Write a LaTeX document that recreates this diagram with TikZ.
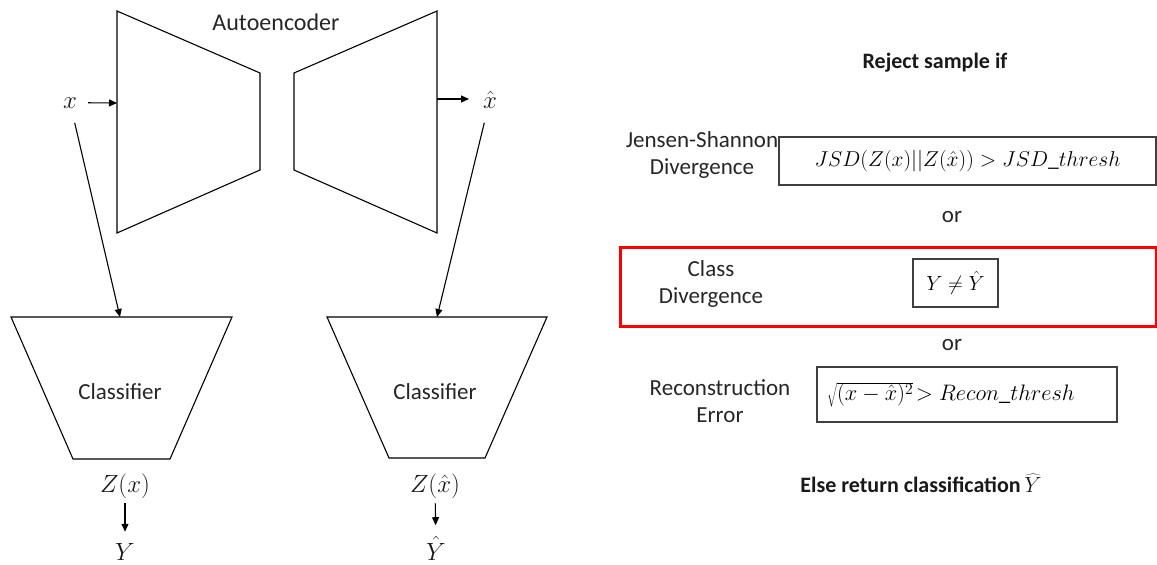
\RequirePackage{fix-cm}
\documentclass[tikz,border=0pt]{standalone}
\usepackage{fontspec}
\setmainfont{Carlito}
\usetikzlibrary{arrows.meta}
\begin{document}
\begin{tikzpicture}[x=1pt,y=-1pt,
  outline/.style={draw=black, line width=1.1pt, line join=miter},
  conn/.style={draw=black, line width=1.1pt, -{Triangle[length=8pt,width=7pt]}},
  lbl/.style={font=\fontsize{23}{27}\selectfont, text=black!85, align=center, inner sep=0pt},
  mth/.style={font=\fontsize{24.9}{28}\selectfont, text=black!90, inner sep=0pt},
  boxed/.style={draw=black!75, line width=1.4pt, inner sep=0pt},
  head/.style={font=\fontsize{22}{26}\selectfont\bfseries, text=black!90, inner sep=0pt},
  redframe/.style={draw=red, line width=3pt}
]
\useasboundingbox (0,0) rectangle (1157,565);

% ---------- autoencoder ----------
\draw[outline] (117,11) -- (260,73) -- (260,170) -- (117,233) -- cycle;
\draw[outline] (437,11) -- (294,73) -- (294,170) -- (437,233) -- cycle;
\node[lbl, font=\fontsize{24}{28}\selectfont] (ae) at (276,22) {Autoencoder};

\coordinate (encin) at (117,103);
\coordinate (decout) at (437,99);

% ---------- classifiers ----------
\draw[outline] (11,317) -- (232,317) -- (170,459) -- (73,459) -- cycle;
\draw[outline] (327,317) -- (547,317) -- (485,458) -- (389,458) -- cycle;
\node[lbl] (clfa) at (120,392) {Classifier};
\node[lbl] (clfb) at (435,392) {Classifier};

\coordinate (clfain) at (120,317);
\coordinate (clfbin) at (437,317);

% ---------- inputs / outputs ----------
\node[mth, anchor=base] (x) at (70,108) {$x$};
\node[mth, anchor=base] (xh) at (490,108) {$\hat{x}$};
\node[mth, anchor=base] (zx) at (125,492) {$Z(x)$};
\node[mth, anchor=base] (zxh) at (435,492) {$Z(\hat{x})$};
\node[mth, anchor=base] (y) at (125,560) {$Y$};
\node[mth, anchor=base] (yh) at (436,560) {$\hat{Y}$};

\draw[conn, shorten <=11pt] (x) -- (encin);
\draw[conn, shorten >=21pt] (decout) -- (decout -| xh.center);
\draw[conn, shorten <=15pt] (x) -- (clfain);
\draw[conn, shorten <=15pt] (xh) -- (clfbin);
\draw[conn, shorten <=5pt, shorten >=11pt] (zx) -- (y);
\draw[conn, shorten <=5pt, shorten >=11pt] (zxh) -- (yh);

% ---------- rejection rule ----------
\node[head] (rej) at (935,63) {Reject sample if};

\node[lbl] (jsdlbl) at (702,155) {Jensen-Shannon\\Divergence};
\node[boxed, minimum width=377pt, minimum height=48pt] (jsd) at (967.5,161)
  {\fontsize{21.5}{26}\selectfont$JSD(Z(x)||Z(\hat{x})) > JSD\_thresh$};

\node[lbl] (ora) at (952,217) {or};

\draw[redframe] (620,247) rectangle (1156,326);
\node[lbl] (cdlbl) at (711,284) {Class\\Divergence};
\node[boxed, minimum width=85pt, minimum height=48pt] (cd) at (955.5,283)
  {\fontsize{20.5}{26}\selectfont$Y \neq \hat{Y}$};

\node[lbl] (orb) at (952,345) {or};

\node[lbl] (rclbl) at (720,401) {Reconstruction\\Error};
\node[boxed, minimum height=55pt, text width=280pt, inner xsep=10pt, align=left] (rc) at (967,394.5)
  {\fontsize{22.4}{26}\selectfont$\sqrt{(x-\hat{x})^2}\!> Recon\_thresh$};

\node[head] (els) at (921,483) {Else return classification\,$\widehat{Y}$};
\end{tikzpicture}
\end{document}
